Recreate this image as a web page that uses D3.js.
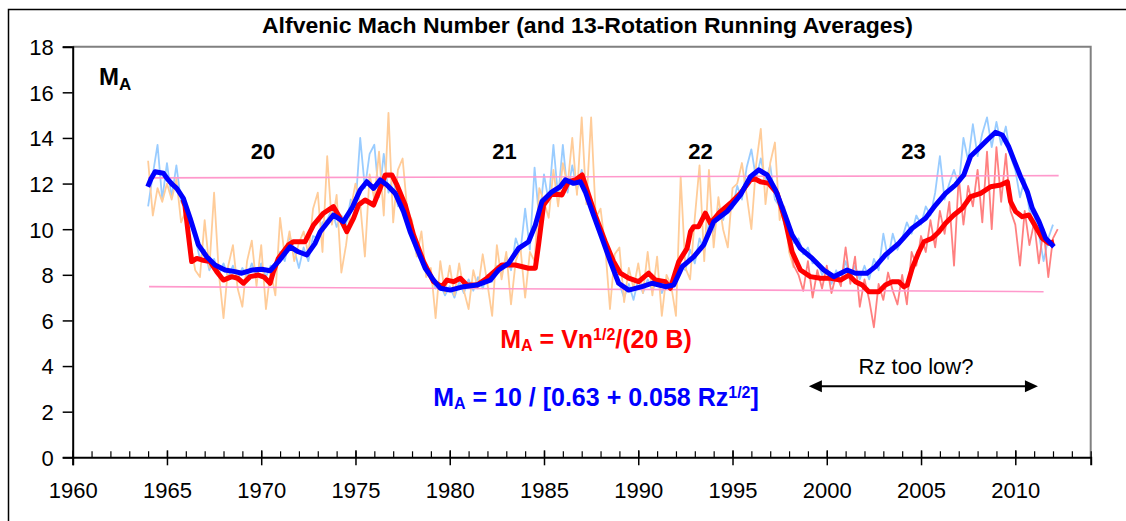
<!DOCTYPE html>
<html><head><meta charset="utf-8">
<script src="https://cdn.jsdelivr.net/npm/d3@7"></script>
<style>body{margin:0;background:#fff}svg{display:block}text{font-family:"Liberation Sans",Arial,sans-serif}</style>
</head><body>
<svg id="c" width="1126" height="521"></svg>
<script>
// ---- data ----
const yTicks = [0,2,4,6,8,10,12,14,16,18];
const xMajorTicks = [1960,1965,1970,1975,1980,1985,1990,1995,2000,2005,2010];
const xMinorTicks = d3.range(1960, 2015, 1);

// raw rotation values, sampled every quarter year
const rawStep = 0.25;
const rawBlueStart = 1964.0;
const rawBlue = [
 11.0,12.4,13.7,11.3, 12.9,11.4,12.8,11.2, 10.9,10.2,9.6,8.7, 9.1,8.2,8.7,8.0,
 8.5,7.9,8.4,7.8, 8.3,7.9,8.5,8.0, 8.5,7.9,8.4,8.3, 9.0,8.6,9.7,9.1,
 8.3,9.2,8.6,9.7, 9.6,10.3,10.4,10.9, 10.1,10.6,10.2,11.3, 11.0,14.0,11.8,13.3,
 13.7,11.4,13.3,11.6, 12.3,11.0,11.2,10.1, 9.6,8.9,8.6,8.1, 7.9,7.4,7.6,7.1,
 7.5,7.0,7.7,7.2, 7.8,7.3,7.9,7.4, 8.0,7.7,8.4,8.0, 8.8,8.2,9.6,9.0,
 10.9,9.1,12.7,10.4, 12.4,11.2,13.7,11.4, 13.7,11.6,12.8,11.7, 12.6,11.3,10.9,10.2,
 10.0,9.1,8.9,8.0, 7.6,7.0,7.6,6.9, 7.8,7.2,7.8,7.3, 7.8,7.2,7.7,7.3,
 7.9,8.5,8.2,9.1, 8.5,9.6,9.0,10.3, 9.9,10.9,10.4,11.1, 10.9,11.9,11.3,12.7,
 13.5,12.2,13.1,12.1, 12.8,11.3,11.0,10.2, 10.1,9.4,9.6,8.9, 9.2,8.5,8.6,8.0,
 8.3,7.6,8.2,7.7, 8.6,7.9,8.4,7.8, 8.4,7.8,8.7,8.2, 9.8,8.7,9.8,9.1,
 9.6,10.3,9.8,10.6, 10.2,11.0,10.6,11.6, 13.2,11.3,12.0,12.6, 11.9,14.0,13.0,14.6,
 13.2,14.2,14.9,13.6, 14.7,13.7,14.5,13.2, 12.6,11.4,12.2,10.8, 10.6,9.8,8.6,9.6,
 10.2
];
const rawOrangeStart = 1964.0;
const rawOrange = [
 13.0,10.6,11.8,11.2, 12.0,11.3,12.2,10.3, 10.8,9.4,8.2,7.9, 10.4,8.3,11.6,8.1,
 6.1,8.4,9.3,7.4, 6.6,8.6,9.5,7.5, 9.3,6.5,8.2,7.1, 10.5,8.8,9.9,8.6,
 9.4,9.9,8.9,10.9, 11.6,9.0,13.2,10.2, 11.5,8.1,9.3,10.9, 12.0,11.1,8.8,12.4,
 11.3,13.4,10.6,15.1, 10.3,12.6,13.1,10.8, 10.4,8.8,9.9,7.9, 8.3,6.1,8.6,7.2,
 8.4,7.1,8.5,7.3, 6.5,8.2,7.4,8.9, 7.6,6.2,9.3,7.8, 9.0,6.7,8.6,9.2,
 7.0,9.0,8.6,11.8, 11.2,10.5,12.6,11.0, 12.9,11.9,14.0,11.5, 14.9,11.1,14.9,10.5,
 10.9,9.2,6.5,8.9, 9.2,6.8,8.3,7.4, 8.5,7.2,9.0,7.1, 8.8,6.2,8.0,7.5,
 6.2,12.3,8.3,7.8, 10.5,12.8,8.6,12.6, 9.2,11.4,10.0,9.2, 11.8,12.0,12.9,11.5,
 10.0,12.8,14.4,11.1, 12.9,13.8,10.4,11.0, 9.0,8.3
];
const rawPinkRedStart = 1998.0;
const rawPinkRed = [
 9.5,8.4,8.0,7.3, 8.6,7.0,8.2,7.4, 8.4,7.2,8.0,7.5, 9.2,7.6,8.8,6.6,
 7.8,6.9,5.7,7.6, 6.9,8.1,7.3,6.7, 8.0,6.7,9.0,8.4, 9.7,9.0,10.4,9.2,
 10.8,9.8,11.2,8.4, 12.3,10.2,11.9,11.0, 12.6,10.3,13.4,10.0, 13.6,11.2,13.3,10.8,
 10.2,8.4,10.8,9.3, 10.3,8.5,10.0,7.9, 9.6,10.0
];

// 13-rotation running averages [year, value]
const avgRed = [
 [1965.85,11.3],[1965.96,11.0],[1966.1,10.0],[1966.31,8.58],[1966.58,8.72],[1966.85,8.65],[1967.29,8.58],
 [1967.64,8.14],[1967.99,7.77],[1968.44,7.92],[1968.75,7.85],[1969.06,7.63],[1969.41,7.92],[1969.85,7.99],
 [1970.15,7.9],[1970.47,7.63],[1970.65,8.14],[1970.91,8.72],[1971.44,9.31],[1971.71,9.45],[1972.33,9.45],
 [1972.6,9.9],[1972.77,10.18],[1973.3,10.7],[1973.83,10.99],[1974.19,10.48],[1974.54,9.89],[1974.9,10.48],
 [1975.16,11.06],[1975.51,11.28],[1975.96,11.06],[1976.31,11.79],[1976.58,12.38],[1976.93,12.38],[1977.2,11.94],
 [1977.64,11.06],[1978.08,9.75],[1978.61,8.58],[1979.14,7.7],[1979.59,7.48],[1979.85,7.77],[1980.2,7.7],
 [1980.56,7.85],[1980.91,7.55],[1981.44,7.55],[1981.97,7.85],[1982.77,8.43],[1983.48,8.43],[1984.18,8.29],
 [1984.54,8.29],[1984.71,9.31],[1984.98,11.06],[1985.42,11.57],[1985.95,11.5],[1986.3,12.08],[1986.66,12.16],
 [1987.02,12.38],[1987.37,11.5],[1987.72,10.62],[1988.25,9.45],[1988.69,8.58],[1989.05,8.07],[1989.49,7.85],
 [1990.02,7.7],[1990.55,8.07],[1990.91,7.77],[1991.44,7.7],[1991.7,7.41],[1992.15,8.58],[1992.59,9.16],
 [1992.77,9.89],[1992.94,10.11],[1993.2,10.11],[1993.56,10.7],[1993.83,10.26],[1994.27,10.7],[1994.89,11.14],
 [1995.42,11.57],[1995.95,12.16],[1996.21,12.2],[1996.48,12.08],[1996.92,12.01],[1997.37,11.57],[1997.81,10.33],
 [1998.16,9.01],[1998.6,8.21],[1999.13,7.92],[1999.66,7.85],[2000.2,7.85],[2000.73,7.77],[2001.17,7.99],
 [2001.52,7.7],[2001.88,7.55],[2002.23,7.26],[2002.76,7.26],[2003.11,7.55],[2003.47,7.7],[2003.82,7.7],
 [2004.09,7.48],[2004.27,7.55],[2004.53,8.29],[2004.89,9.01],[2005.15,9.45],[2005.59,9.6],[2005.95,9.89],
 [2006.3,10.26],[2006.74,10.62],[2007.19,10.92],[2007.63,11.43],[2008.16,11.57],[2008.69,11.86],[2009.22,11.94],
 [2009.58,12.08],[2009.75,11.21],[2010.02,10.77],[2010.37,10.55],[2010.72,10.62],[2011.08,10.11],[2011.43,9.6],
 [2011.78,9.38],[2012.05,9.45]
];
const avgBlue = [
 [1963.98,11.86],[1964.15,12.2],[1964.37,12.52],[1964.81,12.45],[1965.07,12.16],[1965.3,11.95],[1965.52,11.79],
 [1965.87,11.35],[1966.23,10.48],[1966.67,9.31],[1967.11,8.79],[1967.55,8.43],[1968.08,8.21],[1968.61,8.14],
 [1968.97,8.07],[1969.5,8.21],[1970.03,8.24],[1970.47,8.18],[1970.91,8.58],[1971.53,9.23],[1971.97,9.01],
 [1972.42,8.87],[1972.86,9.38],[1973.13,9.89],[1973.83,10.62],[1974.36,10.33],[1974.81,10.92],[1975.25,11.72],
 [1975.6,12.08],[1975.96,11.79],[1976.31,12.16],[1976.67,11.94],[1977.11,11.57],[1977.55,10.77],[1977.9,9.89],
 [1978.26,9.16],[1978.7,8.29],[1979.14,7.77],[1979.5,7.41],[1980.03,7.33],[1980.73,7.48],[1981.44,7.55],
 [1982.15,7.77],[1982.59,8.21],[1983.12,8.5],[1983.65,9.16],[1984.18,9.45],[1984.54,10.18],[1984.89,11.21],
 [1985.42,11.64],[1985.86,11.86],[1986.13,12.16],[1986.57,12.01],[1986.93,12.08],[1987.19,11.64],[1987.63,10.62],
 [1988.08,9.6],[1988.52,8.58],[1988.96,7.63],[1989.49,7.33],[1990.2,7.48],[1990.73,7.63],[1991.44,7.48],
 [1991.88,7.55],[1992.33,8.36],[1992.94,8.79],[1993.47,9.31],[1994.0,10.33],[1994.71,10.77],[1995.42,11.5],
 [1995.95,12.3],[1996.39,12.6],[1996.84,12.38],[1997.28,11.72],[1997.72,10.77],[1998.16,9.75],[1998.6,9.16],
 [1999.23,8.72],[1999.84,8.21],[2000.37,7.92],[2001.08,8.21],[2001.52,8.07],[2002.14,8.07],[2002.58,8.36],
 [2003.11,8.87],[2003.82,9.38],[2004.53,10.04],[2005.24,10.48],[2005.77,11.06],[2006.3,11.57],[2006.83,11.94],
 [2007.27,12.38],[2007.63,13.2],[2008.07,13.55],[2008.51,13.91],[2008.95,14.25],[2009.31,14.13],[2009.66,13.6],
 [2009.96,12.96],[2010.28,12.3],[2010.64,11.64],[2010.9,10.92],[2011.26,10.33],[2011.61,9.6],[2012.05,9.23]
];
// envelope guide lines
const guideUpper = [[1964.0,12.25],[2012.3,12.35]];
const guideLower = [[1964.05,7.48],[2011.5,7.26]];

// annotations
const cycleLabels = [["20",1970.1],["21",1982.9],["22",1993.3],["23",2004.6]];
const cycleLabelY = 13.08;
const arrowSpan = [1999.05, 2011.2];
const arrowY = 3.12;

// ---- chart ----
const svg = d3.select("#c");
const x = d3.scaleLinear().domain([1960,2014]).range([72.7,1090.7]);
const y = d3.scaleLinear().domain([0,18]).range([457.3,46.7]);
const line = d3.line().x(d=>x(d[0])).y(d=>y(d[1]));
const toPts = (arr, start) => arr.map((v,i)=>[start + i*rawStep, v]);

// outer border
svg.append("rect").attr("x",8.5).attr("y",9.5).attr("width",1140).attr("height",540)
  .attr("fill","none").attr("stroke","#000").attr("stroke-width",1.5);

// title
svg.append("text").attr("x",587.5).attr("y",33).attr("text-anchor","middle")
  .attr("font-size",21.5).attr("font-weight","bold")
  .attr("textLength",651).attr("lengthAdjust","spacingAndGlyphs")
  .text("Alfvenic Mach Number (and 13-Rotation Running Averages)");

// plot frame (gray top and right)
svg.append("path").attr("d",`M${x(1960)},${y(18)}H${x(2014)}V${y(0)}`)
  .attr("fill","none").attr("stroke","#808080").attr("stroke-width",2);

// raw series
const g = svg.append("g");
g.append("path").datum(toPts(rawBlue, rawBlueStart)).attr("d",line)
  .attr("fill","none").attr("stroke","#99ccff").attr("stroke-width",1.8).attr("stroke-linejoin","round");
g.append("path").datum(toPts(rawOrange, rawOrangeStart)).attr("d",line)
  .attr("fill","none").attr("stroke","#ffcc99").attr("stroke-width",1.8).attr("stroke-linejoin","round");
g.append("path").datum(toPts(rawPinkRed, rawPinkRedStart)).attr("d",line)
  .attr("fill","none").attr("stroke","#ff8080").attr("stroke-width",1.8).attr("stroke-linejoin","round");

// guide lines
[guideUpper, guideLower].forEach(d=>{
  g.append("path").datum(d).attr("d",line).attr("fill","none").attr("stroke","#ff99cc").attr("stroke-width",1.6);
});

// running averages
g.append("path").datum(avgRed).attr("d",line)
  .attr("fill","none").attr("stroke","#ff0000").attr("stroke-width",5).attr("stroke-linejoin","round");
g.append("path").datum(avgBlue).attr("d",line)
  .attr("fill","none").attr("stroke","#0000ff").attr("stroke-width",5).attr("stroke-linejoin","round");

// y axis
const yAxis = svg.append("g").attr("transform",`translate(${x(1960)},0)`)
  .call(d3.axisLeft(y).tickValues(yTicks).tickSize(10).tickPadding(9).tickFormat(d3.format("d")));
yAxis.select(".domain").attr("stroke","#000").attr("stroke-width",2);
yAxis.selectAll(".tick line").attr("stroke","#000").attr("stroke-width",1.5);
yAxis.selectAll(".tick text").attr("font-size",22).attr("fill","#000").attr("dy","0.36em")
  .style("font-family","'Liberation Sans',Arial,sans-serif");

// x axis: minor ticks (inside)
const xMinor = svg.append("g").attr("transform",`translate(0,${y(0)})`)
  .call(d3.axisBottom(x).tickValues(xMinorTicks).tickSize(-6).tickFormat(""));
xMinor.select(".domain").remove();
xMinor.selectAll(".tick line").attr("stroke","#000").attr("stroke-width",1.2);

// x axis: major ticks crossing + labels
const xAxis = svg.append("g").attr("transform",`translate(0,${y(0)})`)
  .call(d3.axisBottom(x).tickValues(xMajorTicks).tickSize(8).tickFormat(d3.format("d")));
xAxis.select(".domain").attr("stroke","#000").attr("stroke-width",2);
xAxis.selectAll(".tick line").attr("y1",-7).attr("stroke","#000").attr("stroke-width",1.5);
xAxis.selectAll(".tick text").attr("y",41).attr("dy",0).attr("font-size",22).attr("fill","#000")
  .style("font-family","'Liberation Sans',Arial,sans-serif");

// M_A label
const ma = svg.append("text").attr("x",99).attr("y",85).attr("font-weight","bold").attr("font-size",24);
ma.append("tspan").text("M");
ma.append("tspan").attr("font-size",17).attr("dy",5).text("A");

// cycle labels
svg.selectAll("text.cyc").data(cycleLabels).join("text").attr("class","cyc")
  .attr("x",d=>x(d[1])).attr("y",y(cycleLabelY)).attr("text-anchor","middle")
  .attr("font-size",22).attr("font-weight","bold").text(d=>d[0]);

// formulas
const f1 = svg.append("text").attr("x",596).attr("y",348).attr("text-anchor","middle")
  .attr("font-size",25).attr("font-weight","bold").attr("fill","#ff0000");
f1.append("tspan").text("M");
f1.append("tspan").attr("font-size",16).attr("dy",3).text("A");
f1.append("tspan").attr("dy",-3).text(" = Vn");
f1.append("tspan").attr("font-size",16).attr("dy",-8).text("1/2");
f1.append("tspan").attr("dy",8).text("/(20 B)");

const f2 = svg.append("text").attr("x",596).attr("y",406).attr("text-anchor","middle")
  .attr("font-size",25).attr("font-weight","bold").attr("fill","#0000ff");
f2.append("tspan").text("M");
f2.append("tspan").attr("font-size",16).attr("dy",3).text("A");
f2.append("tspan").attr("dy",-3).text(" = 10 / [0.63 + 0.058 Rz");
f2.append("tspan").attr("font-size",16).attr("dy",-8).text("1/2");
f2.append("tspan").attr("dy",8).text("]");

// Rz too low annotation
svg.append("text").attr("x",916).attr("y",374).attr("text-anchor","middle").attr("font-size",22).text("Rz too low?");
const ax0 = x(arrowSpan[0]), ax1 = x(arrowSpan[1]), ay = y(arrowY);
svg.append("line").attr("x1",ax0+10).attr("x2",ax1-10).attr("y1",ay).attr("y2",ay).attr("stroke","#000").attr("stroke-width",2);
svg.append("path").attr("d",`M${ax0},${ay}L${ax0+13},${ay-6}L${ax0+13},${ay+6}Z`).attr("fill","#000");
svg.append("path").attr("d",`M${ax1},${ay}L${ax1-13},${ay-6}L${ax1-13},${ay+6}Z`).attr("fill","#000");
</script>
</body></html>
